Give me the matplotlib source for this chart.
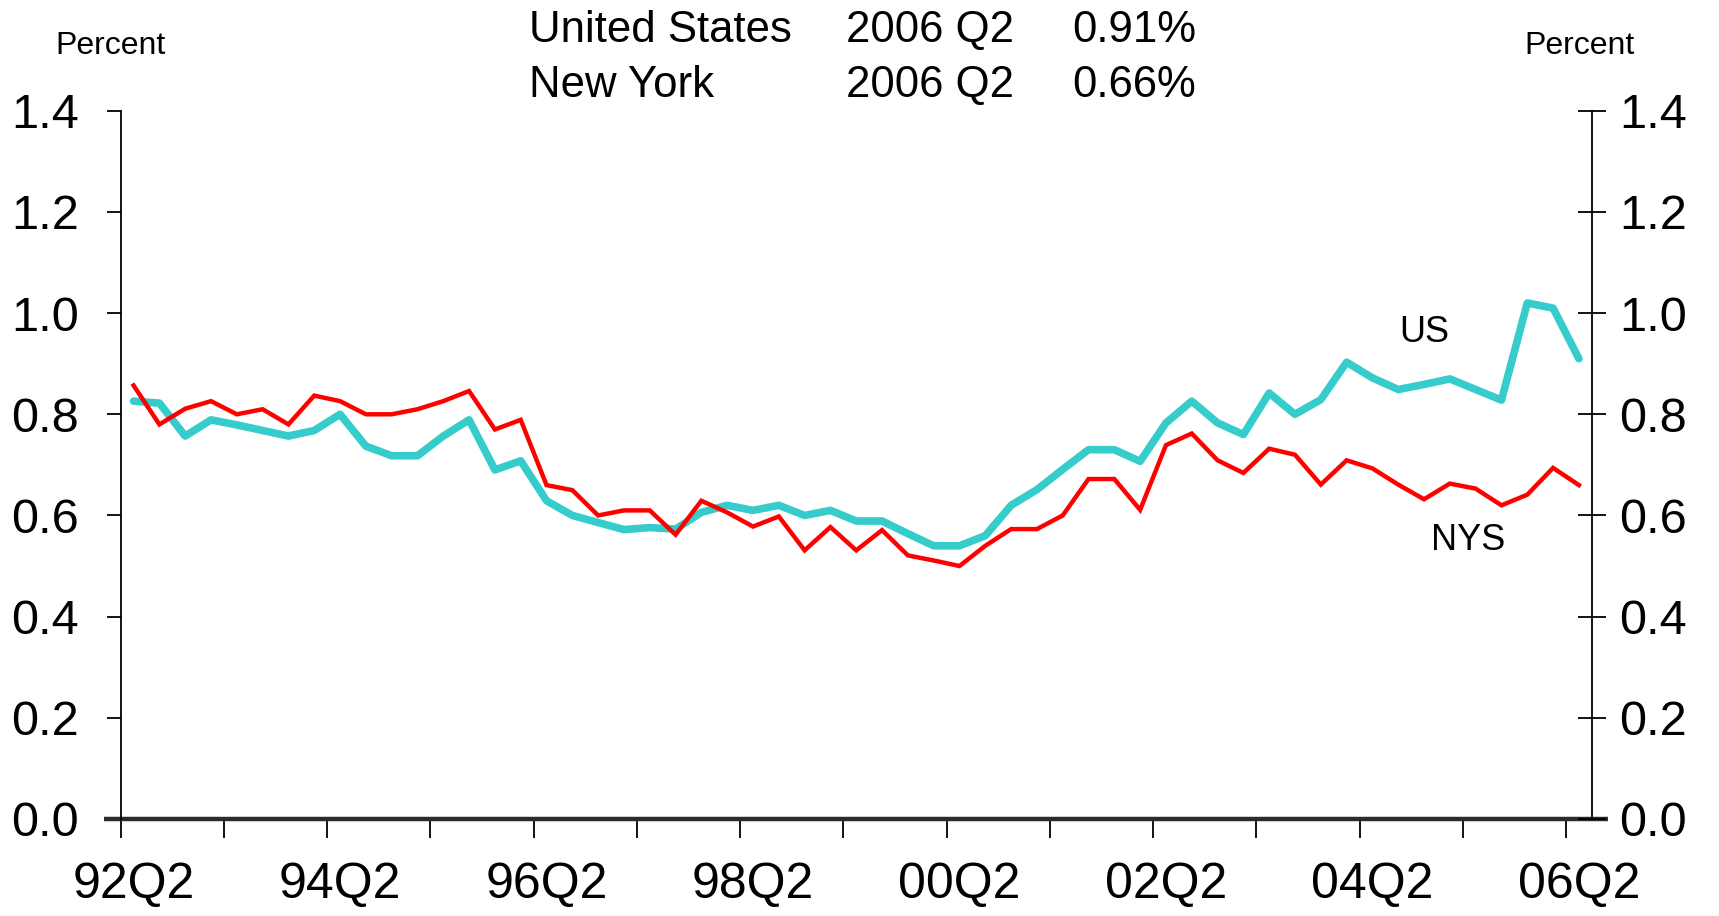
import matplotlib
matplotlib.use('Agg')
import matplotlib.pyplot as plt
import numpy as np

plt.rcParams['font.family'] = ['Liberation Sans', 'DejaVu Sans']

# quarterly data, 92Q2 .. 06Q2
nys = [0.857, 0.780, 0.811, 0.826, 0.800, 0.810, 0.780, 0.837, 0.826, 0.800,
       0.800, 0.810, 0.826, 0.846, 0.770, 0.789, 0.660, 0.650, 0.600, 0.610,
       0.610, 0.562, 0.629, 0.606, 0.578, 0.598, 0.531, 0.577, 0.531, 0.571,
       0.521, 0.511, 0.500, 0.540, 0.573, 0.573, 0.600, 0.672, 0.672, 0.611,
       0.739, 0.762, 0.709, 0.684, 0.732, 0.720, 0.661, 0.709, 0.693, 0.661,
       0.632, 0.663, 0.653, 0.620, 0.641, 0.694, 0.660]
us = [0.826, 0.822, 0.757, 0.789, 0.779, 0.768, 0.757, 0.768, 0.800, 0.737,
      0.718, 0.718, 0.757, 0.789, 0.690, 0.708, 0.629, 0.600, 0.586, 0.572,
      0.576, 0.573, 0.606, 0.620, 0.610, 0.620, 0.600, 0.610, 0.589, 0.589,
      0.564, 0.540, 0.540, 0.560, 0.620, 0.651, 0.691, 0.730, 0.730, 0.707,
      0.783, 0.826, 0.783, 0.760, 0.842, 0.800, 0.829, 0.903, 0.872, 0.849,
      0.859, 0.870, 0.849, 0.828, 1.020, 1.010, 0.910]
x_labels = ['92Q2', '94Q2', '96Q2', '98Q2', '00Q2', '02Q2', '04Q2', '06Q2']
y_ticks = [0.0, 0.2, 0.4, 0.6, 0.8, 1.0, 1.2, 1.4]

header = [['United States', '2006 Q2', '0.91%'],
          ['New York', '2006 Q2', '0.66%']]

x = np.arange(len(us))

fig = plt.figure(figsize=(17.19, 9.16), dpi=100)
ax = fig.add_axes([0.0702, 0.106, 0.8558, 0.773])

ax.plot(x, us, color='#36CCCC', lw=5.5, solid_capstyle='round', solid_joinstyle='round')
ax.plot(x, nys, color='#FF0000', lw=3.2, solid_joinstyle='miter')

ax.set_xlim(-0.5, len(us) - 0.5)
ax.set_ylim(0, 1.4)

# year tick marks sit between the quarter categories, labels on the category
ax.set_xticks(np.arange(15) * 4 - 0.5)
ax.set_xticklabels([])
ax.tick_params(axis='x', which='major', direction='out', length=13.5, width=1.3)
ax.set_xticks(np.arange(len(x_labels)) * 8, minor=True)
ax.set_xticklabels(x_labels, minor=True, fontsize=36)
ax.tick_params(axis='x', which='minor', length=0, pad=31)

ax.set_yticks(y_ticks)
ax.set_yticklabels(['%.1f' % v for v in y_ticks], fontsize=35)
ax.tick_params(axis='y', direction='out', length=10, width=1.3, pad=20)

ax.spines['top'].set_visible(False)
ax.spines['right'].set_visible(False)
ax.spines['bottom'].set_visible(False)
ax.spines['left'].set_linewidth(1.3)

ax2 = ax.twinx()
ax2.set_ylim(0, 1.4)
ax2.set_yticks(y_ticks)
ax2.set_yticklabels(['%.1f' % v for v in y_ticks], fontsize=35)
ax2.tick_params(axis='y', direction='inout', length=20, width=1.3, pad=10)
for s in ['top', 'left', 'bottom']:
    ax2.spines[s].set_visible(False)
ax2.spines['right'].set_linewidth(1.3)

# thick base line, a bit wider than the plot
ax.plot([-0.011, 1.011], [0, 0], transform=ax.transAxes, clip_on=False,
        color='#2b2b2b', lw=3.2, solid_capstyle='butt')

ax.text(50.0, 0.962, 'US', fontsize=26, ha='center', va='center')
ax.text(51.7, 0.55, 'NYS', fontsize=26, ha='center', va='center')

fig.text(0.064, 0.950, 'Percent', fontsize=23, ha='center', va='center')
fig.text(0.9186, 0.950, 'Percent', fontsize=23, ha='center', va='center')

col_x = [0.308, 0.4924, 0.6237]
row_y = [0.967, 0.9065]
for r, row in enumerate(header):
    for c, txt in enumerate(row):
        fig.text(col_x[c], row_y[r], txt, fontsize=31.5, ha='left', va='center')

fig.savefig('out.png', dpi=100)
